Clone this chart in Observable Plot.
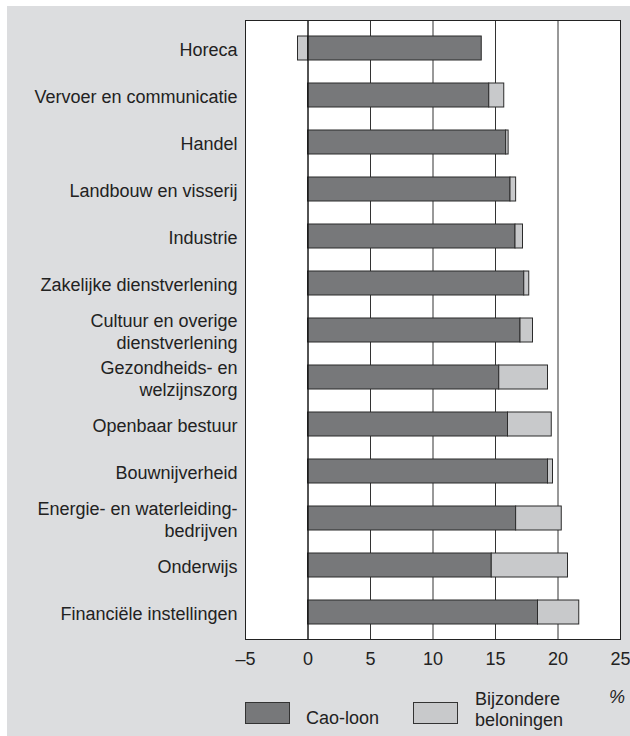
<!DOCTYPE html>
<html>
<head>
<meta charset="utf-8">
<script src="https://cdn.jsdelivr.net/npm/d3@7"></script>
<script src="https://cdn.jsdelivr.net/npm/@observablehq/plot@0.6"></script>
<style>
  html, body { margin: 0; padding: 0; background: #ffffff; }
  body { width: 630px; height: 736px; position: relative; overflow: hidden; font-family: "Liberation Sans", Arial, sans-serif; }
  #panel { position: absolute; left: 7px; top: 6px; width: 623px; height: 730px; background: #dcdddf; }
  #chart svg { display: block; }
  #legend { position: absolute; left: 0; top: 674px; width: 623px; height: 56px; font-size: 18px; color: #222; }
  .box { position: absolute; width: 45px; height: 22px; border: 1px solid #333; box-sizing: border-box; }
  .lt { position: absolute; line-height: 21px; white-space: nowrap; }
</style>
</head>
<body>
<div id="panel">
  <div id="chart"></div>
  <div id="legend"></div>
</div>
<script>
const categories = [
  "Horeca",
  "Vervoer en communicatie",
  "Handel",
  "Landbouw en visserij",
  "Industrie",
  "Zakelijke dienstverlening",
  "Cultuur en overige\ndienstverlening",
  "Gezondheids- en\nwelzijnszorg",
  "Openbaar bestuur",
  "Bouwnijverheid",
  "Energie- en waterleiding-\nbedrijven",
  "Onderwijs",
  "Financiële instellingen"
];
const caoLoon =    [13.9, 14.5, 15.85, 16.2, 16.6, 17.3, 17.0, 15.3, 16.0, 19.2, 16.65, 14.7, 18.4];
const bijzondere = [-0.8,  1.2,  0.2,  0.45, 0.6,  0.4,  1.0,  3.9,  3.5,  0.4,  3.65,  6.1,  3.3];
const seriesNames = ["Cao-loon", "Bijzondere beloningen"];
const seriesColors = ["#77787a", "#c8c9cb"];
const xTicks = [-5, 0, 5, 10, 15, 20, 25];
const gridTicks = [5, 10, 15, 20];

const data = categories.flatMap((c, i) => [
  {cat: c, type: seriesNames[0], value: caoLoon[i]},
  {cat: c, type: seriesNames[1], value: bijzondere[i]}
]);

const chart = Plot.plot({
  width: 623,
  height: 674,
  marginLeft: 238,
  marginRight: 10,
  marginTop: 14,
  marginBottom: 41,
  style: {fontFamily: "Liberation Sans, Arial, sans-serif", fontSize: "18px", background: "transparent", color: "#222"},
  x: {domain: [-5, 25]},
  y: {domain: categories, paddingInner: 0.5, paddingOuter: 0.25},
  color: {domain: seriesNames, range: seriesColors},
  marks: [
    Plot.frame({fill: "#ffffff", stroke: "none"}),
    Plot.ruleX(gridTicks, {stroke: "#333", strokeWidth: 1}),
    Plot.barX(data, Plot.stackX({x: "value", y: "cat", fill: "type", stroke: "#2b2b2b", strokeWidth: 1})),
    Plot.ruleX([0], {stroke: "#1a1a1a", strokeWidth: 1.5}),
    Plot.frame({stroke: "#222", strokeWidth: 1}),
    Plot.axisX({ticks: xTicks, tickSize: 0, tickPadding: 13, fontSize: 18, label: null,
      tickFormat: d => d < 0 ? "\u2013" + Math.abs(d) : String(d)}),
    Plot.axisY({tickSize: 0, tickPadding: 8, fontSize: 18, lineHeight: 1.22, label: null})
  ]
});
document.getElementById("chart").appendChild(chart);

const legend = document.getElementById("legend");
function add(html) { legend.insertAdjacentHTML("beforeend", html); }
add(`<div class="box" style="left:238px; top:22px; background:${seriesColors[0]}"></div>`);
add(`<div class="lt" style="left:299px; top:28px">${seriesNames[0]}</div>`);
add(`<div class="box" style="left:406px; top:22px; background:${seriesColors[1]}"></div>`);
add(`<div class="lt" style="left:468px; top:9px">Bijzondere<br>beloningen</div>`);
add(`<div class="lt" style="left:602px; top:7px; font-style:italic">%</div>`);
</script>
</body>
</html>
